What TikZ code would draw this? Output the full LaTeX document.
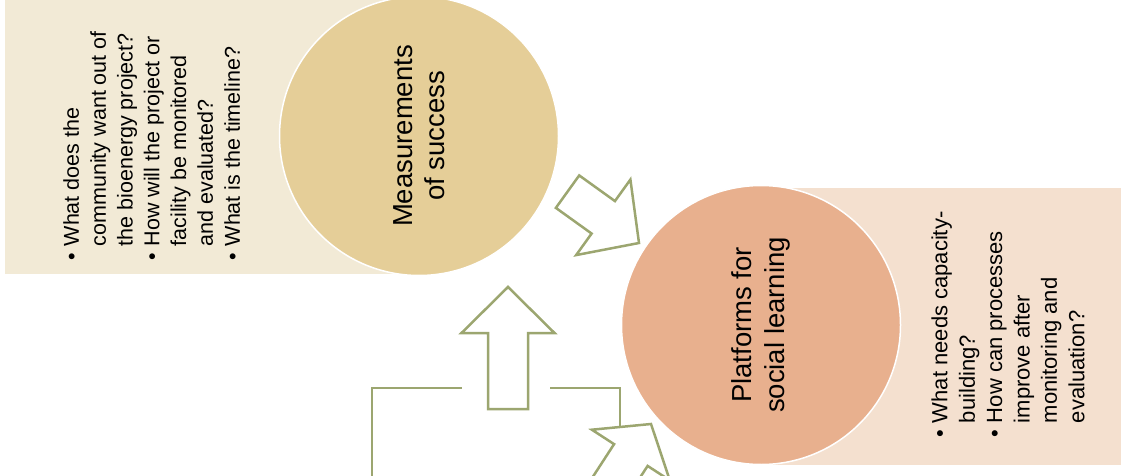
\documentclass[tikz,border=0pt]{standalone}
\usepackage{fontspec}
\setmainfont{Liberation Sans}
\usetikzlibrary{positioning}

\definecolor{boxsand}{RGB}{242,234,214}
\definecolor{circsand}{RGB}{229,206,152}
\definecolor{boxpeach}{RGB}{244,224,207}
\definecolor{circpeach}{RGB}{232,176,142}
\definecolor{olive}{RGB}{156,166,112}

\tikzset{
    bigcirc/.style={circle, minimum size=279, inner sep=0, draw=white, line width=1.5,
        rotate=90, align=center, font=\fontsize{27.5}{32.5}\selectfont},
    quest/.style={rotate=90, anchor=north west, inner sep=0},
    link/.style={olive, line width=2},
    arrowline/.style={olive, line width=2.5, fill=white, line join=miter},
    pics/blockarrow/.style 2 args={code={
        \draw[arrowline] (0,0) -- (-#1,46.5) -- (-#1,20) -- (-#1-#2,20)
            -- (-#1-#2,-20) -- (-#1,-20) -- (-#1,-46.5) -- cycle;
    }}
}

\begin{document}
\begin{tikzpicture}[x=1pt, y=-1pt]
    \useasboundingbox (0,0) rectangle (1122,476);
    \clip (0,0) rectangle (1122,476);

    \fill[boxsand] (5,-5) rectangle (419,274);
    \fill[boxpeach] (761,188) rectangle (1121,465);

    \node[bigcirc, fill=circsand] (meas) at (419,136) {Measurements\\of success};
    \node[bigcirc, fill=circpeach] (plat) at (761,325) {Platforms for\\social learning};

    \node[quest, font=\fontsize{21.5}{26.8}\selectfont] (measq) at (60,261) {%
        \begin{tabular}{@{}l@{\hspace{7pt}}l@{}}
        \textbullet & What does the\\
         & community want out of\\
         & the bioenergy project?\\
        \textbullet & How will the project or\\
         & facility be monitored\\
         & and evaluated?\\
        \textbullet & What is the timeline?
        \end{tabular}};
    \node[quest, font=\fontsize{22}{27.4}\selectfont] (platq) at (928,438) {%
        \begin{tabular}{@{}l@{\hspace{7pt}}l@{}}
        \textbullet & What needs capacity-\\
         & building?\\
        \textbullet & How can processes\\
         & improve after\\
         & monitoring and\\
         & evaluation?
        \end{tabular}};

    % feedback line
    \coordinate (linkA) at (372,480);
    \coordinate (linkM) at (508,388);
    \coordinate (linkB) at (620,450);
    \draw[link] (linkA) |- (linkM) -| (linkB);
    \fill[white] (462,347) rectangle (550,443);

    \pic[rotate=-35.7] at (639,243) {blockarrow={44}{44}};
    \pic[rotate=90] at (508,287) {blockarrow={46}{76}};
    \pic[rotate=57] at (651,424) {blockarrow={37}{90}};
\end{tikzpicture}
\end{document}
